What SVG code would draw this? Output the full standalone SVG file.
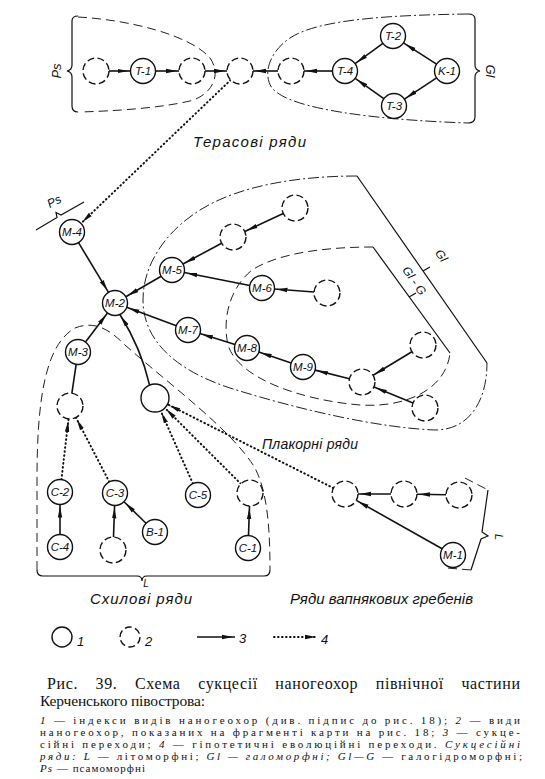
<svg xmlns="http://www.w3.org/2000/svg" width="545" height="779" viewBox="0 0 545 779">
<defs>
<marker id="ah" viewBox="0 0 14 6" refX="13" refY="3" markerWidth="14" markerHeight="6" markerUnits="userSpaceOnUse" orient="auto">
<path d="M0,0.8 L11,3 L0,5.2 Z" fill="#111"/>
</marker>
<style>
.sol{fill:#fff;stroke:#111;stroke-width:1.4}
.das{fill:#fff;stroke:#111;stroke-width:1.4;stroke-dasharray:7 3.4}
.lbl{font-family:"Liberation Sans",Arial,sans-serif;font-style:italic;font-size:11.5px;text-anchor:middle;fill:#111}
.c{fill:none;stroke:#111;stroke-width:1.6;marker-end:url(#ah)}
.d{fill:none;stroke:#111;stroke-width:2;stroke-dasharray:0.6 3.4;stroke-linecap:round;marker-end:url(#ah)}
.bd{fill:none;stroke:#222;stroke-width:1;stroke-dasharray:9 5}
.bdd{fill:none;stroke:#222;stroke-width:1;stroke-dasharray:11 3 2 3}
.br{fill:none;stroke:#111;stroke-width:1.2}
.t{font-family:"Liberation Sans",Arial,sans-serif;font-style:italic;fill:#111}
.cap{font-family:"Liberation Serif","Times New Roman",serif;fill:#111}
.i{font-style:italic}
</style>
</defs>
<rect width="545" height="779" fill="#fff"/>

<g id="boundaries">
<path class="br" d="M78,16 Q72,16 72,21 L72,65 Q72,70 67,71 Q72,72 72,77 L72,106 Q72,112 78,112"/>
<path class="bd" d="M78,17 C130,20 190,35 210,58 C222,75 212,95 190,101 C160,108 115,111 80,112"/>
<path class="br" d="M468,14 Q475,14 475,19 L475,65 Q475,70 480,71 Q475,72 475,77 L475,117 Q475,123 468,123"/>
<path class="bdd" d="M468,14 C400,15 320,18 290,38 C268,53 263,75 272,88 C290,110 380,120 468,123"/>
<path class="bdd" d="M357,176 C300,176 240,185 200,210 C165,232 143,265 143,300 C143,340 175,370 230,388 C300,410 380,428 435,430 C470,430 487,400 487,363"/>
<path class="br" d="M357,176 L487,363 M423,271 L430,267"/>
<path class="bd" d="M373,247 C330,247 280,252 252,270 C230,288 222,318 228,345 C238,378 300,400 360,405 C405,408 446,390 450,353"/>
<path class="br" d="M373,247 L450,353 M409,297 L416,293"/>
<path class="bd" d="M37,570 L37,480 C37,400 45,345 75,328 C95,320 110,330 125,345 C170,385 232,430 255,468 C266,490 270,520 270,570"/>
<path class="br" d="M37,570 Q37,576 43,576 L137,576 Q142,576 142,581 Q142,576 147,576 L264,576 Q270,576 270,570"/>
<path class="br" d="M36,230 L57,217.5 L56,212.5 L61,215 L84,202"/>
<path class="bd" d="M465,478 L488,490"/>
<path class="br" d="M488,490 L482,532 L488,536 L481,539 L471,570"/>
<path class="bd" d="M471,570 L447,568"/>
</g>

<g id="connectors">
<path class="c" d="M109,71 L130.5,71"/>
<path class="c" d="M155.5,71 L179,71"/>
<path class="c" d="M205,71 L227,71"/>
<path class="c" d="M278,71 L253,71"/>
<path class="c" d="M332.5,71 L304,71"/>
<path class="c" d="M382.9,43.4 L355.1,63.6"/>
<path class="c" d="M436.5,64.2 L403.5,42.8"/>
<path class="c" d="M436.6,77.9 L404.4,99.1"/>
<path class="c" d="M383.8,98.7 L355.2,78.3"/>
<path class="d" d="M230.6,80 L81,223.4"/>
<path class="c" d="M78.5,242.7 L108.5,292.3"/>
<path class="c" d="M161.2,276.3 L125.8,296.7"/>
<path class="c" d="M221.6,243.2 L183,264"/>
<path class="c" d="M283.2,213.5 L244.8,231.5"/>
<path class="c" d="M249.7,285.5 L184.3,272.5"/>
<path class="c" d="M314,292 L274.5,289"/>
<path class="c" d="M176.3,325.7 L126.7,307.3"/>
<path class="c" d="M235,344.4 L200,333.6"/>
<path class="c" d="M291.2,363 L258.8,352"/>
<path class="c" d="M349.4,378.8 L315.1,370.1"/>
<path class="c" d="M411.9,351.7 L373.1,375.3"/>
<path class="c" d="M413,403 L374,387"/>
<path class="c" d="M85.5,342 L107.5,313"/>
<path class="c" d="M149.6,385.1 Q141,348 119.9,314.5"/>
<path class="c" d="M71.9,393.1 L79.8,339.6"/>
<path class="c" d="M60,534.5 L60,504.5"/>
<path class="d" d="M61.4,479.6 L68.5,418.9"/>
<path class="d" d="M109.3,481.9 L76,417.6"/>
<path class="c" d="M113.5,537 L114.6,505.5"/>
<path class="c" d="M146,523.3 L124,501.7"/>
<path class="d" d="M192.9,483.6 L160.7,410.8"/>
<path class="d" d="M240.8,483.8 L164.9,407.9"/>
<path class="c" d="M248.5,535.5 L249.5,506"/>
<path class="d" d="M333.4,488.1 L167.5,404.3"/>
<path class="c" d="M391,494 L358,494"/>
<path class="c" d="M446,494.8 L417,494.2"/>
<path class="c" d="M442.1,548.8 L356.3,500.4"/>
</g>

<g id="d1"><circle class="das" cx="96" cy="71" r="13"/></g>
<g id="T-1"><circle class="sol" cx="143" cy="71" r="12.5"/><text class="lbl" x="143" y="75">T-1</text></g>
<g id="d2"><circle class="das" cx="192" cy="71" r="13"/></g>
<g id="d3"><circle class="das" cx="240" cy="71" r="13"/></g>
<g id="d4"><circle class="das" cx="291" cy="71" r="13"/></g>
<g id="T-4"><circle class="sol" cx="345" cy="71" r="12.5"/><text class="lbl" x="345" y="75">T-4</text></g>
<g id="T-2"><circle class="sol" cx="393" cy="36" r="12.5"/><text class="lbl" x="393" y="40">T-2</text></g>
<g id="K-1"><circle class="sol" cx="447" cy="71" r="12.5"/><text class="lbl" x="447" y="75">K-1</text></g>
<g id="T-3"><circle class="sol" cx="394" cy="106" r="12.5"/><text class="lbl" x="394" y="110">T-3</text></g>

<g id="M-4"><circle class="sol" cx="72" cy="232" r="12.5"/><text class="lbl" x="72" y="236">M-4</text></g>
<g id="M-2"><circle class="sol" cx="115" cy="303" r="12.5"/><text class="lbl" x="115" y="307">M-2</text></g>
<g id="M-5"><circle class="sol" cx="172" cy="270" r="12.5"/><text class="lbl" x="172" y="274">M-5</text></g>
<g id="dA"><circle class="das" cx="233" cy="237" r="13"/></g>
<g id="dB"><circle class="das" cx="295" cy="208" r="13"/></g>
<g id="M-6"><circle class="sol" cx="262" cy="288" r="12.5"/><text class="lbl" x="262" y="292">M-6</text></g>
<g id="dC"><circle class="das" cx="327" cy="293" r="13"/></g>
<g id="M-7"><circle class="sol" cx="188" cy="330" r="12.5"/><text class="lbl" x="188" y="334">M-7</text></g>
<g id="M-8"><circle class="sol" cx="247" cy="348" r="12.5"/><text class="lbl" x="247" y="352">M-8</text></g>
<g id="M-9"><circle class="sol" cx="303" cy="367" r="12.5"/><text class="lbl" x="303" y="371">M-9</text></g>
<g id="dD"><circle class="das" cx="362" cy="382" r="13"/></g>
<g id="dE"><circle class="das" cx="423" cy="345" r="13"/></g>
<g id="dF"><circle class="das" cx="425" cy="408" r="13"/></g>
<g id="M-3"><circle class="sol" cx="78" cy="352" r="12.5"/><text class="lbl" x="78" y="356">M-3</text></g>
<g id="dG"><circle class="das" cx="70" cy="406" r="13"/></g>
<g id="S1"><circle class="sol" cx="155" cy="398" r="14"/></g>

<g id="C-2"><circle class="sol" cx="60" cy="492" r="12.5"/><text class="lbl" x="60" y="496">C-2</text></g>
<g id="C-4"><circle class="sol" cx="60" cy="547" r="12.5"/><text class="lbl" x="60" y="551">C-4</text></g>
<g id="C-3"><circle class="sol" cx="115" cy="493" r="12.5"/><text class="lbl" x="115" y="497">C-3</text></g>
<g id="dH"><circle class="das" cx="113" cy="550" r="13"/></g>
<g id="B-1"><circle class="sol" cx="155" cy="532" r="12.5"/><text class="lbl" x="155" y="536">B-1</text></g>
<g id="C-5"><circle class="sol" cx="198" cy="495" r="12.5"/><text class="lbl" x="198" y="499">C-5</text></g>
<g id="dI"><circle class="das" cx="250" cy="493" r="13"/></g>
<g id="C-1"><circle class="sol" cx="248" cy="548" r="12.5"/><text class="lbl" x="248" y="552">C-1</text></g>
<g id="dJ"><circle class="das" cx="345" cy="494" r="13"/></g>
<g id="dK"><circle class="das" cx="404" cy="494" r="13"/></g>
<g id="dL"><circle class="das" cx="459" cy="495" r="13"/></g>
<g id="M-1"><circle class="sol" cx="453" cy="555" r="12.5"/><text class="lbl" x="453" y="559">M-1</text></g>

<g id="labels">
<text class="t" x="193" y="147" font-size="15" textLength="113" lengthAdjust="spacing">Терасові ряди</text>
<text class="t" x="262" y="449" font-size="14" textLength="96" lengthAdjust="spacing">Плакорні ряди</text>
<text class="t" x="90" y="604" font-size="15" textLength="102" lengthAdjust="spacing">Схилові ряди</text>
<text class="t" x="290" y="604" font-size="15" textLength="183" lengthAdjust="spacing">Ряди вапнякових гребенів</text>
<text class="t" font-size="13" text-anchor="middle" transform="translate(61,71) rotate(-90)">Ps</text>
<text class="t" font-size="13" text-anchor="middle" transform="translate(486,71) rotate(90)">Gl</text>
<text class="t" font-size="12" text-anchor="middle" transform="translate(56,205) rotate(-28)">Ps</text>
<text class="t" font-size="12" text-anchor="middle" transform="translate(438,258) rotate(55)">Gl</text>
<text class="t" font-size="12" text-anchor="middle" transform="translate(411,283) rotate(55)">Gl - G</text>
<text class="t" font-size="10" text-anchor="middle" x="146" y="587">L</text>
<text class="t" font-size="11" text-anchor="middle" transform="translate(495,537) rotate(90)">L</text>
</g>

<g id="legend">
<circle class="sol" cx="62" cy="637" r="10"/>
<text class="t" font-size="13" x="77" y="646">1</text>
<circle class="das" cx="130" cy="637" r="10"/>
<text class="t" font-size="13" x="145" y="646">2</text>
<path class="c" d="M197,637 L235,637"/>
<text class="t" font-size="13" x="239" y="643">3</text>
<path class="d" d="M274,637 L318,637"/>
<text class="t" font-size="13" x="321" y="644">4</text>
</g>

<g id="caption">
<text class="cap" x="47" y="689" font-size="16" word-spacing="13" textLength="473" lengthAdjust="spacing">Рис. 39. Схема сукцесії наногеохор північної частини</text>
<text class="cap" x="40" y="706" font-size="15.5" textLength="165" lengthAdjust="spacing">Керченського півострова:</text>
<text class="cap" x="40" y="724" font-size="11" textLength="480" lengthAdjust="spacing"><tspan class="i">1</tspan> — індекси видів наногеохор (див. підпис до рис. 18); <tspan class="i">2</tspan> — види</text>
<text class="cap" x="40" y="736" font-size="11" textLength="480" lengthAdjust="spacing">наногеохор, показаних на фрагменті карти на рис. 18; <tspan class="i">3</tspan> — сукце-</text>
<text class="cap" x="40" y="748" font-size="11" textLength="480" lengthAdjust="spacing">сійні переходи; <tspan class="i">4</tspan> — гіпотетичні еволюційні переходи. <tspan class="i">Сукцесійні</tspan></text>
<text class="cap" x="40" y="760" font-size="11" textLength="482" lengthAdjust="spacing"><tspan class="i">ряди:</tspan> <tspan class="i">L</tspan> — літоморфні; <tspan class="i">Gl — галоморфні;</tspan> <tspan class="i">Gl—G</tspan> — галогідроморфні;</text>
<text class="cap" x="40" y="772" font-size="11" textLength="105" lengthAdjust="spacing"><tspan class="i">Ps</tspan> — псамоморфні</text>
</g>
</svg>
